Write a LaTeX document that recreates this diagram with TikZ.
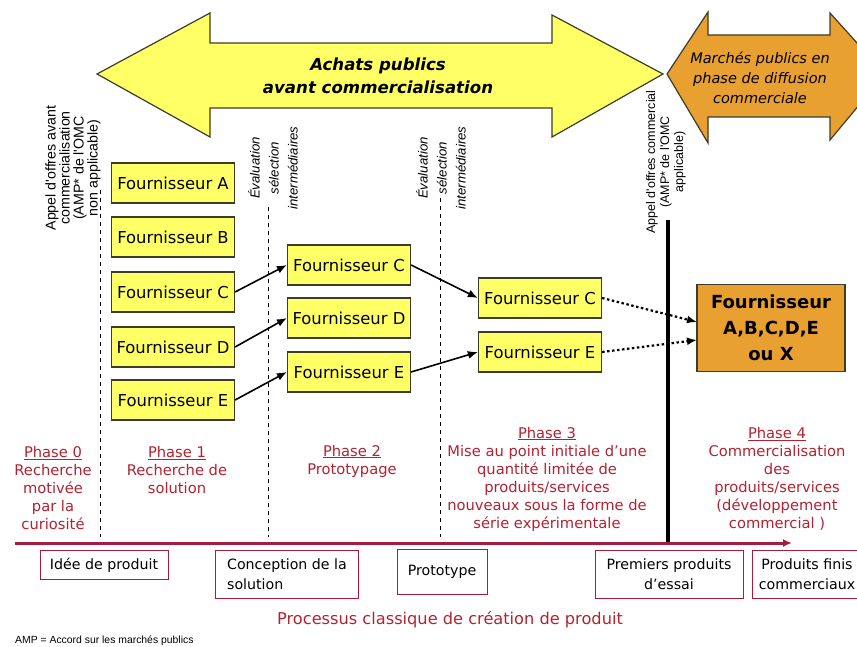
\documentclass[tikz,border=0pt]{standalone}
\usepackage{fontspec}
\setmainfont{DejaVu Sans}
\newfontfamily\narrowfont{Liberation Sans}
\usetikzlibrary{arrows.meta}
\definecolor{jaune}{RGB}{255,255,102}
\definecolor{orangeb}{RGB}{232,160,48}
\definecolor{contour}{RGB}{60,60,40}
\definecolor{rougeph}{RGB}{178,34,48}
\definecolor{rougeax}{RGB}{165,28,62}

\begin{document}
\begin{tikzpicture}[x=1pt,y=-1pt,
	fourn/.style={draw=contour,fill=jaune,line width=1.2pt,minimum width=123pt,minimum height=40pt,inner sep=0pt,font=\fontsize{16.4}{18}\selectfont},
	etape/.style={draw=rougeax,line width=1pt,inner sep=0pt,align=center,font=\fontsize{14.2}{19.5}\selectfont},
	phasetxt/.style={text=rougeph,align=center,inner sep=0pt,font=\fontsize{14.7}{18}\selectfont},
	appel/.style={rotate=90,align=center,inner sep=0pt,font=\narrowfont\fontsize{14.2}{14}\selectfont},
	evalu/.style={rotate=90,align=center,inner sep=0pt,font=\narrowfont\itshape\fontsize{13.2}{19}\selectfont},
	sepline/.style={line width=1pt,dash pattern=on 4pt off 4pt},
	fl/.style={-{Latex[length=10pt,width=8pt]},line width=1.6pt},
	flp/.style={-{Latex[length=10pt,width=8pt]},line width=2.2pt,dash pattern=on 2.5pt off 2.5pt}]
\useasboundingbox (0,0) rectangle (857,647);
\clip (0,0) rectangle (857,647);

% grandes fleches
\draw[fill=jaune,draw=contour,line width=1.2pt] (97,74) -- (210,13) -- (210,43) -- (552,43) -- (552,15) -- (663,74) -- (552,137) -- (552,108) -- (210,108) -- (210,137) -- cycle;
\draw[fill=orangeb,draw=contour,line width=1.2pt] (667,74) -- (708,12) -- (708,35) -- (830,35) -- (830,13) -- (885,74) -- (830,140) -- (830,117) -- (708,117) -- (708,143) -- cycle;
\node[font=\bfseries\itshape\fontsize{16.6}{23}\selectfont,align=center] (achats) at (378,76) {Achats publics\\avant commercialisation};
\node[font=\itshape\fontsize{14.5}{20}\selectfont,align=center] (marches) at (760,78) {Marchés publics en\\phase de diffusion\\commerciale};

% appels d'offres et evaluations
\node[appel] (L0) at (73,168) {Appel d'offres avant\\commercialisation\\(AMP* de l'OMC\\non applicable)};
\node[evalu] (L1) at (273,168) {Évaluation\\sélection\\intermédiaires};
\node[evalu] (L2) at (441,168) {Évaluation\\sélection\\intermédiaires};
\node[appel,font=\narrowfont\fontsize{12.5}{14}\selectfont] (L3) at (666,162) {Appel d'offres commercial\\(AMP* de l'OMC\\applicable)};

\coordinate (S0h) at (100,190);
\coordinate (S0b) at (100,537);
\coordinate (S1h) at (268,207);
\coordinate (S1b) at (268,537);
\coordinate (S2h) at (440,198);
\coordinate (S2b) at (440,537);
\coordinate (T1) at (668,220);
\coordinate (T0) at (668,543);
\draw[sepline] (S0h)--(S0b);
\draw[sepline] (S1h)--(S1b);
\draw[sepline] (S2h)--(S2b);
\draw[line width=3.5pt] (T1)--(T0);

% fournisseurs
\node[fourn] (A1) at (173,183) {Fournisseur A};
\node[fourn] (B1) at (173,237) {Fournisseur B};
\node[fourn] (C1) at (173,292) {Fournisseur C};
\node[fourn] (D1) at (173,347) {Fournisseur D};
\node[fourn] (E1) at (173,400) {Fournisseur E};
\node[fourn] (C2) at (349,265) {Fournisseur C};
\node[fourn] (D2) at (349,318) {Fournisseur D};
\node[fourn] (E2) at (349,372) {Fournisseur E};
\node[fourn] (C3) at (540,298) {Fournisseur C};
\node[fourn] (E3) at (540,352) {Fournisseur E};
\node[draw=contour,fill=orangeb,line width=1.2pt,minimum width=148pt,minimum height=87pt,inner sep=0pt,align=center,font=\bfseries\fontsize{18}{26}\selectfont] (X) at (771,328) {Fournisseur\\A,B,C,D,E\\ou X};
\coordinate (XC) at (697,322);
\coordinate (XE) at (697,340);

\draw[fl] (C1.east)--(C2.west);
\draw[fl] (D1.east)--(D2.west);
\draw[fl] (E1.east)--(E2.west);
\draw[fl] (C2.east)--(C3.west);
\draw[fl] (E2.east)--(E3.west);
\draw[flp] (C3.east)--(XC);
\draw[flp] (E3.east)--(XE);

% phases
\node[phasetxt] (P0) at (53,488) {\underline{Phase 0}\\Recherche\\motivée\\par la\\curiosité};
\node[phasetxt] (P1) at (177,470) {\underline{Phase 1}\\Recherche de\\solution};
\node[phasetxt] (P2) at (352,461) {\underline{Phase 2}\\Prototypage};
\node[phasetxt] (P3) at (547,479) {\underline{Phase 3}\\Mise au point initiale d'une\\quantité limitée de\\produits/services\\nouveaux sous la forme de\\série expérimentale};
\node[phasetxt] (P4) at (777,479) {\underline{Phase 4}\\Commercialisation\\des\\produits/services\\(développement\\commercial )};

\coordinate (AX0) at (15,543);
\coordinate (AX1) at (792,543);
\draw[rougeax,line width=3pt,-{Latex[length=9pt,width=8pt]}] (AX0)--(AX1);

% processus classique
\node[etape,minimum width=128pt,minimum height=29pt] (I1) at (104,565) {Idée de produit};
\node[etape,align=left,minimum width=143pt,minimum height=48pt] (I2) at (287,574) {Conception de la\\ solution};
\node[etape,minimum width=90pt,minimum height=45pt] (I3) at (442,572) {Prototype};
\node[etape,minimum width=148pt,minimum height=48pt] (I4) at (669,574) {Premiers produits\\d'essai};
\node[etape,minimum width=110pt,minimum height=48pt] (I5) at (807,574) {Produits finis\\commerciaux};
\node[text=rougeph,font=\fontsize{16.2}{18}\selectfont] (proc) at (450,620) {Processus classique de création de produit};
\node[anchor=west,inner sep=0pt,font=\narrowfont\fontsize{10.4}{11}\selectfont] (amp) at (15,641) {AMP = Accord sur les marchés publics};

\end{tikzpicture}
\end{document}
